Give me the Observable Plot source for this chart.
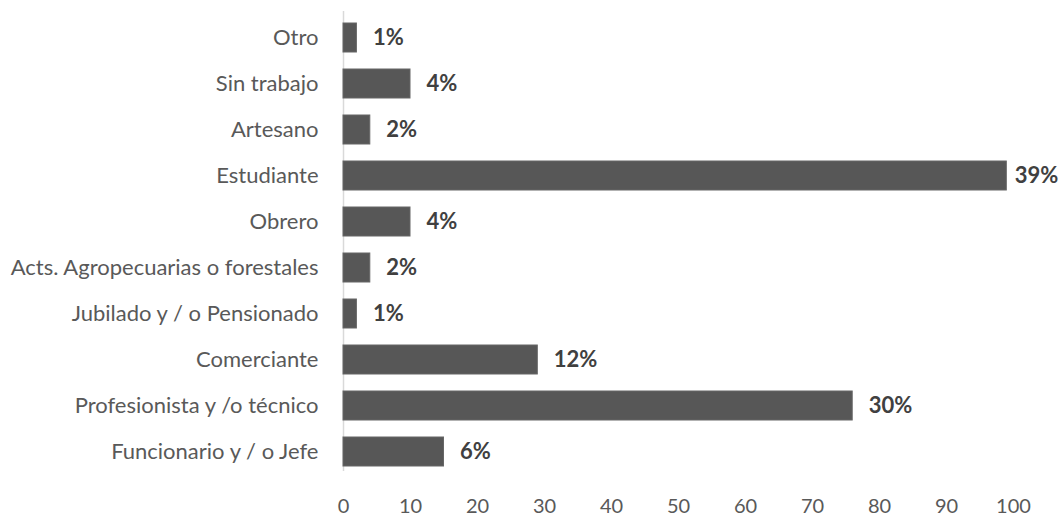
<!DOCTYPE html>
<html>
<head>
<meta charset="utf-8">
<script src="https://cdn.jsdelivr.net/npm/d3@7"></script>
<script src="https://cdn.jsdelivr.net/npm/@observablehq/plot@0.6"></script>
<style>
  html, body { margin: 0; padding: 0; background: #ffffff; }
  #chart svg { display: block; }
</style>
</head>
<body>
<div id="chart"></div>
<script>
// Occupation categories, top to bottom
const categories = [
  "Otro",
  "Sin trabajo",
  "Artesano",
  "Estudiante",
  "Obrero",
  "Acts. Agropecuarias o forestales",
  "Jubilado y / o Pensionado",
  "Comerciante",
  "Profesionista y /o técnico",
  "Funcionario y / o Jefe"
];
// Respondent counts per category
const counts = [2, 10, 4, 99, 10, 4, 2, 29, 76, 15];
// Share of respondents shown beside each bar
const shareLabels = ["1%", "4%", "2%", "39%", "4%", "2%", "1%", "12%", "30%", "6%"];
// X axis ticks
const xTicks = [0, 10, 20, 30, 40, 50, 60, 70, 80, 90, 100];

const rows = categories.map((c, i) => ({ category: c, count: counts[i], label: shareLabels[i] }));

const font = "Lato, 'Open Sans', sans-serif";

const chart = Plot.plot({
  width: 1064,
  height: 518,
  marginLeft: 343,
  marginRight: 51,
  marginTop: 11,
  marginBottom: 41,
  style: { fontFamily: font, background: "#ffffff", color: "#595959" },
  x: { domain: [0, 100], ticks: xTicks, label: null },
  y: { domain: categories, label: null, paddingInner: 0.377, paddingOuter: 0.1885 },
  marks: [
    Plot.ruleX([0], { stroke: "#d9d9d9", strokeWidth: 1.5, insetBottom: 6 }),
    Plot.barX(rows, { y: "category", x: "count", fill: "#575757", stroke: "#666666", strokeWidth: 1 }),
    Plot.text(rows.filter(d => d.count < 90), {
      y: "category", x: "count", text: "label", textAnchor: "start", dx: 16,
      fontSize: 22, fontWeight: "bold", fill: "#404040"
    }),
    Plot.text(rows.filter(d => d.count >= 90), {
      y: "category", x: "count", text: "label", textAnchor: "start", dx: 8,
      fontSize: 22, fontWeight: "bold", fill: "#404040"
    }),
    Plot.axisX({ ticks: xTicks, tickSize: 0, tickPadding: 21, fontSize: 20, fill: "#595959", label: null }),
    Plot.axisY({ tickSize: 0, tickPadding: 25, fontSize: 22, fill: "#595959", label: null })
  ]
});

document.getElementById("chart").appendChild(chart);
</script>
</body>
</html>
